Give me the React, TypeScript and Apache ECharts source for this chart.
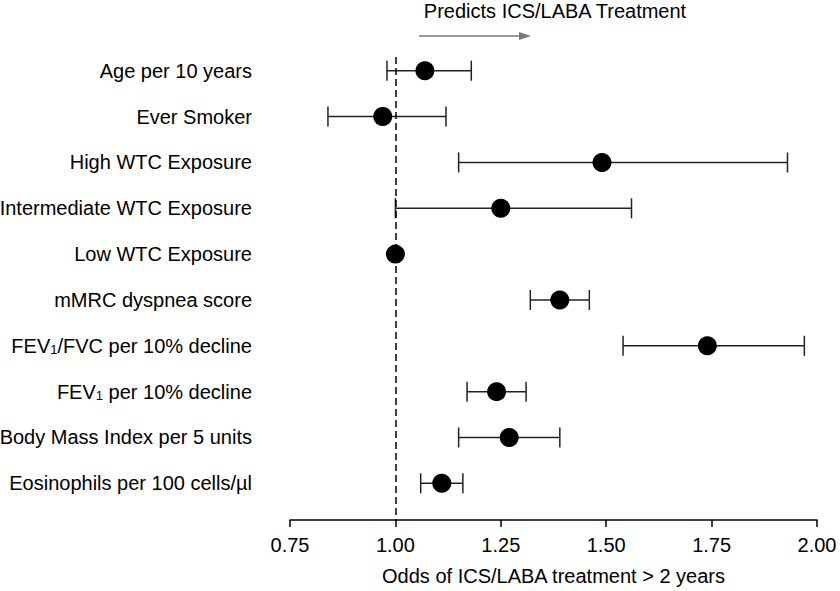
import React, { useEffect, useRef } from "react";
import * as echarts from "echarts";

const labels = [
  "Age per 10 years",
  "Ever Smoker",
  "High WTC Exposure",
  "Intermediate WTC Exposure",
  "Low WTC Exposure",
  "mMRC dyspnea score",
  "FEV{sub|1}/FVC per 10% decline",
  "FEV{sub|1} per 10% decline",
  "Body Mass Index per 5 units",
  "Eosinophils per 100 cells/µl",
];
const estimates = [1.07, 0.97, 1.49, 1.25, 1.0, 1.39, 1.74, 1.24, 1.27, 1.11];
const lowerCI = [0.98, 0.84, 1.15, 1.0, 1.0, 1.32, 1.54, 1.17, 1.15, 1.06];
const upperCI = [1.18, 1.12, 1.93, 1.56, 1.0, 1.46, 1.97, 1.31, 1.39, 1.16];
const xTicks = { min: 0.75, max: 2.0, interval: 0.25 };

const FONT = "'Liberation Sans', Arial, Helvetica, sans-serif";

export default function App() {
  const ref = useRef<HTMLDivElement>(null);
  useEffect(() => {
    if (!ref.current) return;
    const chart = echarts.init(ref.current, null, { renderer: "svg" });
    const ciData = labels.map((_, i) =>
      lowerCI[i] === upperCI[i] ? null : [lowerCI[i], upperCI[i], i]
    ).filter((d) => d !== null);
    const labelData = labels.map((_, i) => [xTicks.min, i]);
    chart.setOption({
      animation: false,
      backgroundColor: "#fff",
      grid: { left: 290, right: 23, top: 57, bottom: 66 },
      xAxis: {
        type: "value",
        min: xTicks.min,
        max: xTicks.max,
        interval: xTicks.interval,
        name: "Odds of ICS/LABA treatment > 2 years",
        nameLocation: "middle",
        nameGap: 46,
        nameTextStyle: { fontSize: 20, color: "#000", fontFamily: FONT },
        axisLine: { show: true, onZero: false, lineStyle: { color: "#000", width: 1.5 } },
        axisTick: { show: true, length: 7, lineStyle: { color: "#000", width: 1.5 } },
        axisLabel: {
          fontSize: 20,
          color: "#000",
          fontFamily: FONT,
          margin: 15,
          formatter: (v: number) => v.toFixed(2),
        },
        splitLine: { show: false },
      },
      yAxis: {
        type: "value",
        inverse: true,
        min: -0.3,
        max: 9.8,
        show: false,
      },
      graphic: [
        {
          type: "text",
          x: 555,
          y: 11,
          style: {
            text: "Predicts ICS/LABA Treatment",
            fontSize: 20,
            fontFamily: FONT,
            fill: "#000",
            align: "center",
            verticalAlign: "middle",
          },
        },
        {
          type: "line",
          shape: { x1: 419, y1: 36, x2: 522, y2: 36 },
          style: { stroke: "#777", lineWidth: 1.5 },
        },
        {
          type: "polygon",
          shape: { points: [[519, 32], [531, 36], [519, 40]] },
          style: { fill: "#777" },
        },
      ],
      series: [
        {
          type: "custom",
          name: "labels",
          data: labelData,
          encode: { x: 0, y: 1 },
          silent: true,
          renderItem: (params: any, api: any) => {
            const i = api.value(1);
            const p = api.coord([api.value(0), i]);
            return {
              type: "text",
              x: p[0] - 38,
              y: p[1],
              style: {
                text: labels[i],
                fontSize: 20,
                fontFamily: FONT,
                fill: "#000",
                align: "right",
                verticalAlign: "middle",
                rich: {
                  sub: { fontSize: 13, fontFamily: FONT, padding: [8, 0, 0, 0], fill: "#000" },
                },
              },
            };
          },
          z: 1,
        },
        {
          type: "custom",
          name: "ci",
          data: ciData,
          encode: { x: [0, 1], y: 2 },
          silent: true,
          renderItem: (params: any, api: any) => {
            const y = api.value(2);
            const a = api.coord([api.value(0), y]);
            const b = api.coord([api.value(1), y]);
            const st = { stroke: "#222", lineWidth: 1.5 };
            return {
              type: "group",
              children: [
                { type: "line", shape: { x1: a[0], y1: a[1], x2: b[0], y2: b[1] }, style: st },
                { type: "line", shape: { x1: a[0], y1: a[1] - 10, x2: a[0], y2: a[1] + 10 }, style: st },
                { type: "line", shape: { x1: b[0], y1: b[1] - 10, x2: b[0], y2: b[1] + 10 }, style: st },
              ],
            };
          },
          z: 2,
        },
        {
          type: "scatter",
          name: "OR",
          data: estimates.map((v, i) => [v, i]),
          symbol: "circle",
          symbolSize: 19,
          itemStyle: { color: "#000", opacity: 1 },
          silent: true,
          z: 4,
          markLine: {
            silent: true,
            symbol: "none",
            label: { show: false },
            lineStyle: { color: "#000", width: 1.5, type: [7, 4], opacity: 1 },
            data: [{ xAxis: 1 }],
            z: 3,
          },
        },
      ],
    });
    return () => chart.dispose();
  }, []);
  return (
    <div
      ref={ref}
      style={{ position: "fixed", left: 0, top: 0, width: 840, height: 591 }}
    />
  );
}
